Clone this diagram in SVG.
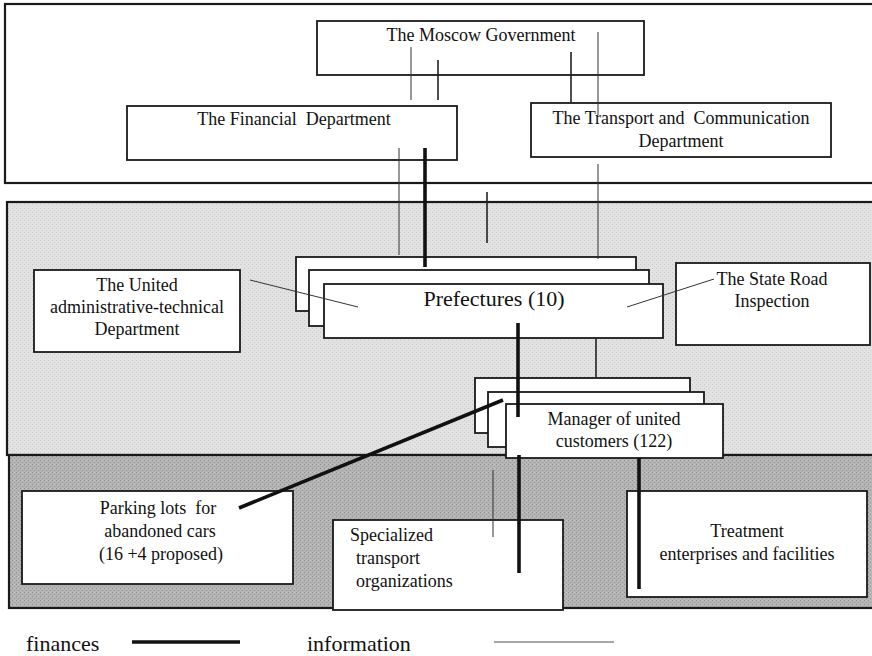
<svg xmlns="http://www.w3.org/2000/svg" width="872" height="656" viewBox="0 0 872 656">
<defs>
<style>
.panel{stroke:#1a1a1a;stroke-width:2.2}
.box{fill:#fff;stroke:#1a1a1a;stroke-width:1.8}
.t{font-family:"Liberation Serif","Times New Roman",serif;font-size:18px;fill:#111;white-space:pre}
.c{text-anchor:middle}
.big{font-size:22px}
.info{stroke:#333;stroke-width:1;fill:none}
.med{stroke:#222;stroke-width:1.6;fill:none}
.fin{stroke:#111;stroke-width:3.6;fill:none}
</style>
<pattern id="grain1" width="4" height="4" patternUnits="userSpaceOnUse">
<rect width="4" height="4" fill="#e2e2e2"/>
<rect x="0" y="0" width="1" height="1" fill="#c8c8c8"/>
<rect x="2" y="2" width="1" height="1" fill="#d0d0d0"/>
</pattern>
<pattern id="grain2" width="4" height="4" patternUnits="userSpaceOnUse">
<rect width="4" height="4" fill="#b4b4b4"/>
<rect x="0" y="0" width="1" height="1" fill="#8e8e8e"/>
<rect x="2" y="2" width="1" height="1" fill="#999"/>
<rect x="2" y="0" width="1" height="1" fill="#c8c8c8"/>
</pattern>
</defs>

<g id="panels">
<rect class="panel" x="5" y="4" width="875" height="179" fill="#fff"/>
<rect class="panel" x="7" y="202" width="875" height="253" fill="url(#grain1)"/>
<rect class="panel" x="9" y="455" width="875" height="153" fill="url(#grain2)"/>
</g>

<g id="moscow-government">
<rect class="box" x="317" y="21" width="327" height="54"/>
<text class="t c" x="481" y="41">The Moscow Government</text>
</g>

<g id="financial-department">
<rect class="box" x="127" y="106" width="330" height="54"/>
<text class="t c" x="294" y="125">The Financial  Department</text>
</g>

<g id="transport-department">
<rect class="box" x="531" y="103" width="300" height="54"/>
<text class="t c" x="681" y="124">The Transport and  Communication</text>
<text class="t c" x="681" y="147">Department</text>
</g>

<g id="united-department">
<rect class="box" x="34" y="270" width="206" height="82"/>
<text class="t c" x="137" y="291">The United</text>
<text class="t c" x="137" y="313">administrative-technical</text>
<text class="t c" x="137" y="335">Department</text>
</g>

<g id="state-road-inspection">
<rect class="box" x="676" y="263" width="194" height="82"/>
<text class="t c" x="772" y="285">The State Road</text>
<text class="t c" x="772" y="307">Inspection</text>
</g>

<g id="prefectures">
<rect class="box" x="296" y="257" width="340" height="54"/>
<rect class="box" x="309" y="270" width="340" height="56"/>
<rect class="box" x="324" y="284" width="339" height="54"/>
<text class="t c big" x="494" y="306">Prefectures (10)</text>
</g>

<g id="manager">
<rect class="box" x="475" y="378" width="215" height="55"/>
<rect class="box" x="488" y="392" width="216" height="55"/>
<rect class="box" x="506" y="404" width="217" height="54"/>
<text class="t c" x="614" y="425">Manager of united</text>
<text class="t c" x="614" y="447">customers (122)</text>
</g>

<g id="parking-lots">
<rect class="box" x="22" y="491" width="271" height="93"/>
<text class="t c" x="158" y="514">Parking lots  for</text>
<text class="t c" x="160" y="537">abandoned cars</text>
<text class="t c" x="161" y="560">(16 +4 proposed)</text>
</g>

<g id="specialized-transport">
<rect class="box" x="333" y="520" width="230" height="90"/>
<text class="t" x="350" y="541">Specialized</text>
<text class="t" x="356" y="564">transport</text>
<text class="t" x="356" y="587">organizations</text>
</g>

<g id="treatment">
<rect class="box" x="627" y="491" width="240" height="106"/>
<text class="t c" x="747" y="537">Treatment</text>
<text class="t c" x="747" y="560">enterprises and facilities</text>
</g>

<g id="connectors">
<line class="info" x1="411" y1="47" x2="411" y2="100"/>
<line class="med" x1="438" y1="60" x2="438" y2="100"/>
<line class="med" x1="571" y1="52" x2="571" y2="102"/>
<line class="info" x1="598" y1="32" x2="598" y2="115"/>
<line class="info" x1="399" y1="148" x2="399" y2="255"/>
<line class="fin" x1="425" y1="148" x2="425" y2="267"/>
<line class="info" x1="598" y1="164" x2="598" y2="259"/>
<line class="med" x1="487" y1="192" x2="487" y2="243"/>
<line class="info" x1="250" y1="280" x2="358" y2="307"/>
<line class="info" x1="627" y1="307" x2="714" y2="279"/>
<line class="fin" x1="518" y1="323" x2="518" y2="417"/>
<line class="med" x1="596" y1="338" x2="596" y2="378"/>
<line class="fin" x1="503" y1="400" x2="239" y2="508"/>
<line class="info" x1="493" y1="470" x2="493" y2="537"/>
<line class="fin" x1="519" y1="455" x2="519" y2="573"/>
<line class="fin" x1="639" y1="458" x2="639" y2="589"/>
</g>

<g id="legend">
<text class="t" x="26" y="651" style="font-size:22px">finances</text>
<line x1="132" y1="642" x2="240" y2="642" stroke="#111" stroke-width="3.6"/>
<text class="t" x="307" y="651" style="font-size:22px">information</text>
<line x1="494" y1="642" x2="614" y2="642" stroke="#888" stroke-width="1.6"/>
</g>
</svg>
